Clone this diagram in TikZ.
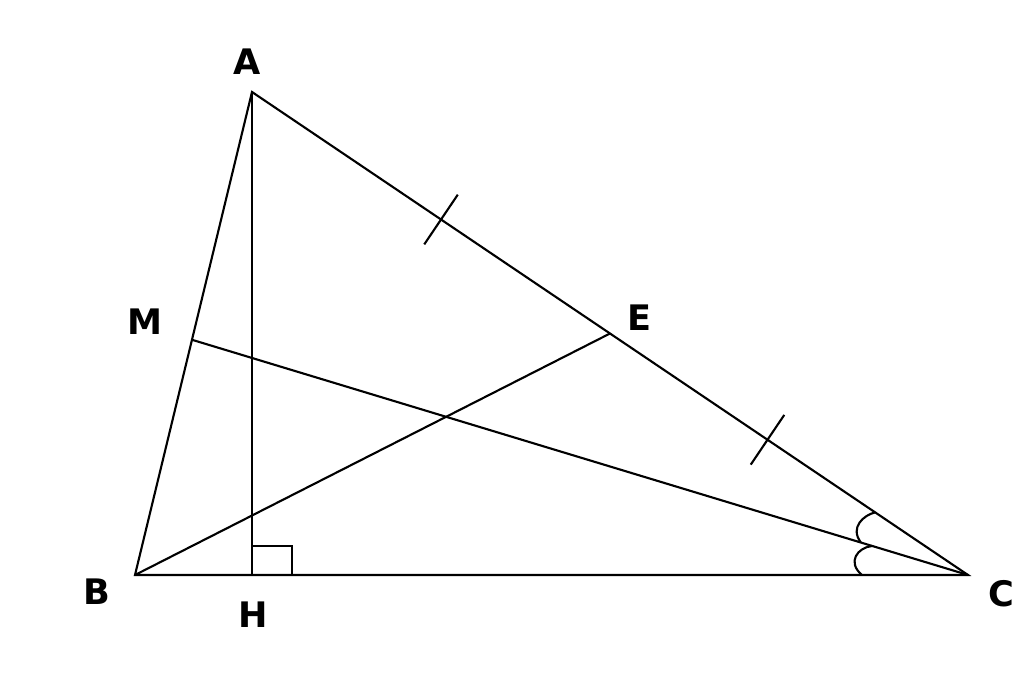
\documentclass[tikz,border=0pt]{standalone}
\usepackage{fontspec}
\setmainfont{DejaVu Sans}
\usetikzlibrary{calc}

\tikzset{
  seg/.style={line width=0.6pt},
  lbl/.style={font=\fontsize{10}{12}\selectfont\bfseries, inner sep=0pt}
}

\begin{document}
\begin{tikzpicture}[>=latex]
\useasboundingbox (0,0) rectangle (10.24,6.84);

\coordinate (A) at (2.52, 5.92);
\coordinate (B) at (1.35, 1.09);
\coordinate (C) at (9.68, 1.09);
\coordinate (H) at (2.52, 1.09);
\coordinate (M) at ($(A)!0.513!(B)$);
\coordinate (E) at ($(A)!0.5!(C)$);

\node[lbl] (lA) at (2.47, 6.22) {A};
\node[lbl] (lB) at (0.97, 0.92) {B};
\node[lbl] (lC) at (10.01, 0.90) {C};
\node[lbl] (lH) at (2.53, 0.69) {H};
\node[lbl] (lE) at (6.40, 3.66) {E};
\node[lbl] (lM) at (1.45, 3.62) {M};

% triangle and its lines
\draw[seg] (A) -- (B) -- (C) -- cycle;
\draw[seg] (A) -- (H);
\draw[seg] (B) -- (E);
\draw[seg] (C) -- (M);

% right angle at H
\draw[seg] ($(H)+(0,0.29)$) -- ($(H)+(0.40,0.29)$) -- ($(H)+(0.40,0)$);

% equal parts AE = EC
\coordinate (t1) at ($(A)!0.264!(C)$);
\coordinate (t2) at ($(A)!0.72!(C)$);
\draw[seg] ($(t1)!0.3cm!90:(C)$) -- ($(t1)!0.3cm!-90:(C)$);
\draw[seg] ($(t2)!0.3cm!90:(C)$) -- ($(t2)!0.3cm!-90:(C)$);

% equal angles at C
\draw[seg] ([shift={(180:1.06)}]C) .. controls ([shift={(174:1.22)}]C) and ([shift={(166:1.14)}]C) .. ([shift={(163.1:1.00)}]C);
\draw[seg] ([shift={(163.1:1.12)}]C) .. controls ([shift={(158:1.28)}]C) and ([shift={(150:1.20)}]C) .. ([shift={(146:1.12)}]C);

\end{tikzpicture}
\end{document}
